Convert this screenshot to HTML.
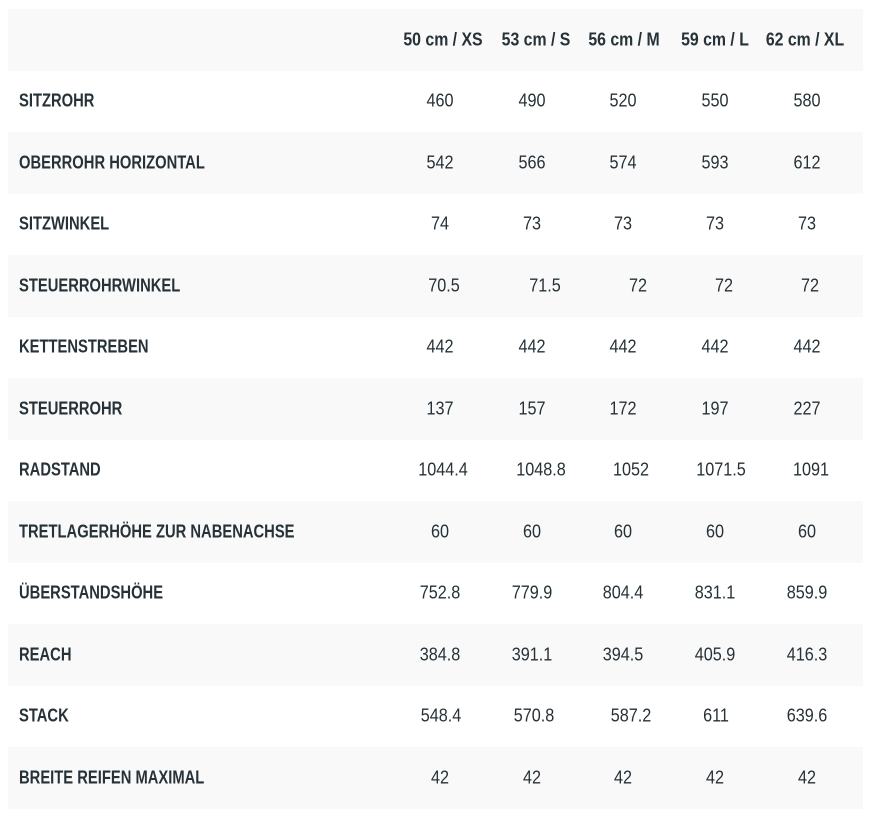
<!DOCTYPE html>
<html><head><meta charset="utf-8"><style>
body{margin:0;width:879px;height:826px;background:#fff;position:relative;font-family:"Liberation Sans",sans-serif;color:#263238;overflow:hidden}
.r{position:absolute;left:8px;width:855px;height:61.5px}
.g{background:#f9f9f9}
.l{position:absolute;left:19px;font-weight:bold;font-size:18px;transform-origin:0 50%;transform:translateY(-50%) scaleX(0.82);white-space:nowrap}
.v{position:absolute;font-size:18px;transform:translate(-50%,-50%) scaleX(0.9);white-space:nowrap}
.h{font-weight:bold;transform:translate(-50%,-50%) scaleX(0.88)}
</style></head><body>
<div class="r g" style="top:9px"></div>
<div class="r g" style="top:132px"></div>
<div class="r g" style="top:255px"></div>
<div class="r g" style="top:378px"></div>
<div class="r g" style="top:501px"></div>
<div class="r g" style="top:624px"></div>
<div class="r g" style="top:747px"></div>
<div id="c"></div>
<script>
var hdr=["50 cm / XS","53 cm / S","56 cm / M","59 cm / L","62 cm / XL"];
var hx=[443,536,624,715,805];
var rows=[
["SITZROHR",["460","490","520","550","580"]],
["OBERROHR HORIZONTAL",["542","566","574","593","612"]],
["SITZWINKEL",["74","73","73","73","73"]],
["STEUERROHRWINKEL",["70.5","71.5","72","72","72"],[444,545,638,724,810]],
["KETTENSTREBEN",["442","442","442","442","442"]],
["STEUERROHR",["137","157","172","197","227"]],
["RADSTAND",["1044.4","1048.8","1052","1071.5","1091"],[443,541,631,721,811]],
["TRETLAGERHÖHE ZUR NABENACHSE",["60","60","60","60","60"]],
["ÜBERSTANDSHÖHE",["752.8","779.9","804.4","831.1","859.9"]],
["REACH",["384.8","391.1","394.5","405.9","416.3"]],
["STACK",["548.4","570.8","587.2","611","639.6"],[441,534,631,716,807]],
["BREITE REIFEN MAXIMAL",["42","42","42","42","42"]]];
var dx=[440,532,623,715,807];
var h="";
hdr.forEach(function(t,i){h+='<div class="v h" style="left:'+hx[i]+'px;top:40px">'+t+'</div>';});
rows.forEach(function(r,j){var y=101+j*61.5;var xs=r[2]||dx;
h+='<div class="l" style="top:'+y+'px">'+r[0]+'</div>';
r[1].forEach(function(t,i){h+='<div class="v" style="left:'+xs[i]+'px;top:'+y+'px">'+t+'</div>';});});
document.getElementById("c").innerHTML=h;
</script>
</body></html>
